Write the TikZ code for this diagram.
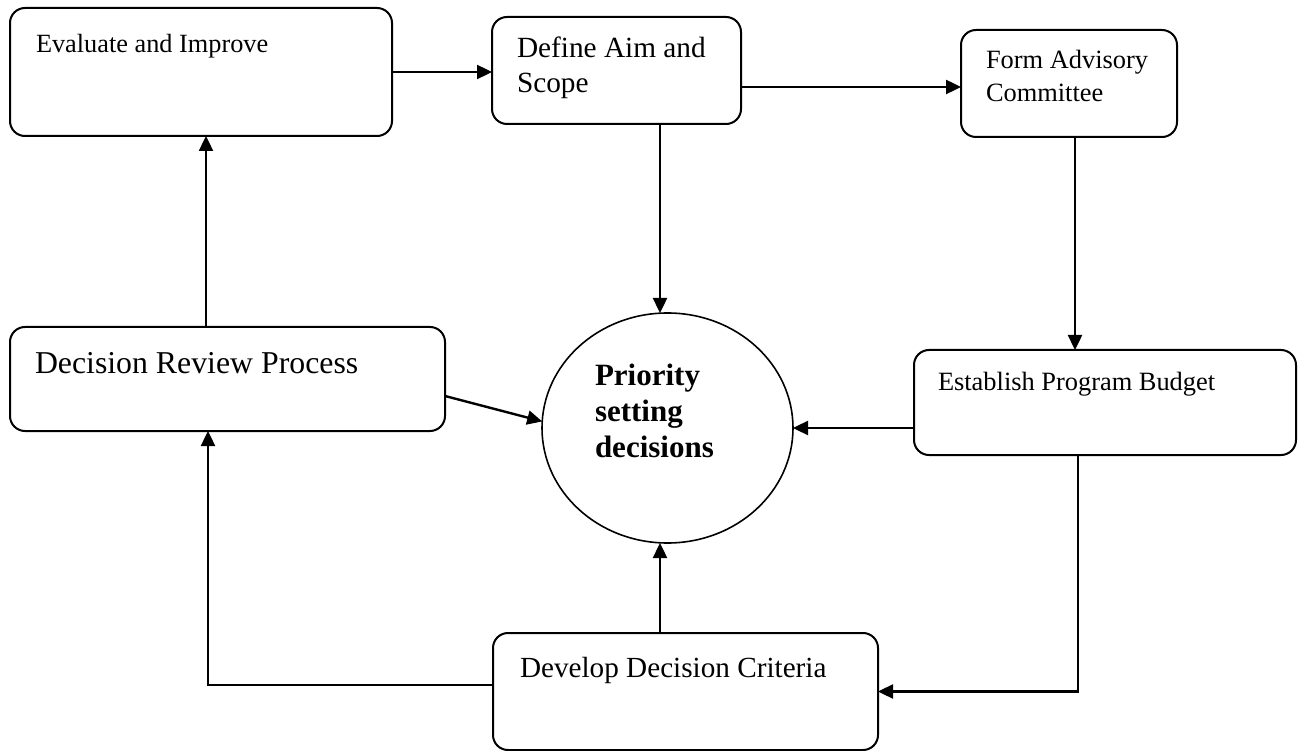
\documentclass[tikz,border=0pt]{standalone}
\usepackage{fontspec}
\setmainfont{Liberation Serif}
\usetikzlibrary{arrows.meta,shapes.geometric,calc}
\begin{document}
\begin{tikzpicture}[x=1pt,y=-1pt,
  box/.style={draw, line width=2pt, rounded corners=15pt, inner sep=0pt, outer sep=0pt, anchor=north west},
  lbl/.style={anchor=north west, inner sep=0pt, outer sep=0pt, align=left},
  conn/.style={line width=2.4pt, -{Triangle[length=15pt,width=14pt]}}]
\useasboundingbox (0,0) rectangle (1299,751);

% process boxes
\node[box, minimum width=382pt, minimum height=128pt] (eval)    at (10,8)    {};
\node[box, minimum width=249pt, minimum height=107pt] (define)  at (492,17)  {};
\node[box, minimum width=216pt, minimum height=107pt] (form)    at (961,30)  {};
\node[box, minimum width=382pt, minimum height=105pt] (budget)  at (914,350) {};
\node[box, minimum width=435pt, minimum height=104pt] (review)  at (10,327)  {};
\node[box, minimum width=385pt, minimum height=117pt] (develop) at (493,633) {};

% central decision ellipse
\node[draw, ellipse, line width=1.6pt, minimum width=251pt, minimum height=230pt,
      inner sep=0pt, outer sep=0pt] (prio) at (667.5,428) {};

% box labels
\node[lbl, font=\fontsize{26.3}{30}\selectfont] (evalt) at (36,34) {Evaluate and Improve};
\node[lbl, font=\fontsize{29.3}{35}\selectfont] (definet) at (517,37) {Define Aim and\\Scope};
\node[lbl, font=\fontsize{26.4}{33}\selectfont] (formt) at (986,50) {Form Advisory\\Committee};
\node[lbl, font=\fontsize{26.4}{30}\selectfont] (budgett) at (938,372) {Establish Program Budget};
\node[lbl, font=\fontsize{31.8}{36}\selectfont] (reviewt) at (35,352) {Decision Review Process};
\node[lbl, font=\fontsize{29.2}{33}\selectfont] (developt) at (520,657) {Develop Decision Criteria};
\node[lbl, font=\bfseries\fontsize{31}{36}\selectfont] (priot) at (595,364) {Priority\\setting\\decisions};

% connectors
\draw[conn] (eval.east) -- (eval.east -| define.west);
\draw[conn] ([yshift=-16.5pt]define.east) -- ([yshift=-16.5pt]define.east -| form.west);
\draw[conn] ([xshift=-7.5pt]prio.north |- define.south) -- ([xshift=-7.5pt]prio.north);
\draw[conn] ([xshift=6pt]form.south) -- ([xshift=6pt]form.south |- budget.north);
\draw[conn] (budget.west |- prio.east) -- (prio.east);
\draw[conn] ([xshift=-27pt]budget.south) |- (develop.east);
\draw[conn] ([xshift=-7.5pt]prio.south |- develop.north) -- ([xshift=-7.5pt]prio.south);
\draw[conn] ([yshift=6.5pt]develop.west) -| ([xshift=-19.5pt]review.south);
\draw[conn] ([xshift=5pt]eval.south |- review.north) -- ([xshift=5pt]eval.south);
\draw[conn] ([yshift=-17pt]review.east) -- (prio.177);
\end{tikzpicture}
\end{document}
